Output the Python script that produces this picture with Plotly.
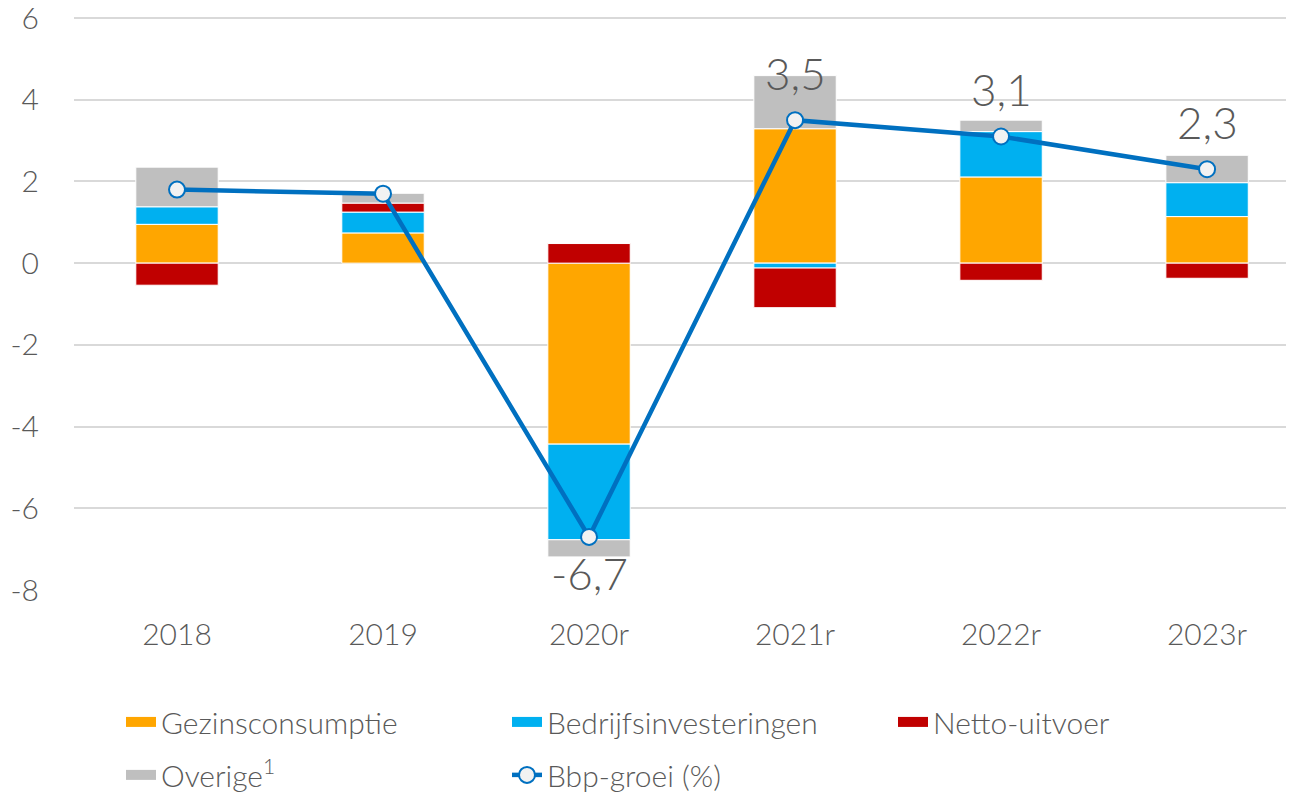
import plotly.graph_objects as go

years = ['2018', '2019', '2020r', '2021r', '2022r', '2023r']
gezinsconsumptie = [0.95, 0.74, -4.43, 3.29, 2.11, 1.14]
bedrijfsinvesteringen = [0.43, 0.51, -2.34, -0.12, 1.11, 0.83]
netto_uitvoer = [-0.54, 0.22, 0.48, -0.97, -0.42, -0.37]
overige = [0.97, 0.24, -0.42, 1.30, 0.28, 0.67]
bbp_groei = [1.8, 1.7, -6.7, 3.5, 3.1, 2.3]
y_ticks = [-8, -6, -4, -2, 0, 2, 4, 6]

FONT = "Lato"
GREY_TXT = "#595959"

fig = go.Figure()

bars = [
    ("Gezinsconsumptie", gezinsconsumptie, "#FFA600"),
    ("Bedrijfsinvesteringen", bedrijfsinvesteringen, "#00B0F0"),
    ("Netto-uitvoer", netto_uitvoer, "#C00000"),
    ("Overige<sup>1</sup>", overige, "#BFBFBF"),
]
for i, (name, vals, col) in enumerate(bars):
    fig.add_trace(go.Bar(
        x=years, y=vals, name=name, width=0.4,
        marker=dict(color=col, line=dict(color="white", width=1)),
        showlegend=False, hoverinfo="skip",
    ))
    # wide legend swatch
    fig.add_trace(go.Scatter(
        x=[None], y=[None], mode="lines", name=name,
        line=dict(color=col, width=19),
        legend="legend" if i < 3 else "legend2",
    ))

fig.add_trace(go.Scatter(
    x=years, y=bbp_groei, name="Bbp-groei (%)", mode="lines+markers",
    line=dict(color="#0070C0", width=4.5),
    marker=dict(size=16, color="#F2F2F2", line=dict(color="#0070C0", width=2)),
    legend="legend2",
))

# data labels
for yr, v in zip(years, bbp_groei):
    fig.add_annotation(
        x=yr, y=v, text=f"{v:.1f}".replace(".", ","), showarrow=False,
        yshift=47 if v > 0 else -36,
        font=dict(family=FONT, size=44, color=GREY_TXT, weight=300),
    )

leg = dict(
    orientation="h", x=47 / 1220, xanchor="left", yanchor="top",
    entrywidth=341, entrywidthmode="pixels",
    font=dict(family=FONT, size=30, color=GREY_TXT, weight=300),
    bgcolor="rgba(0,0,0,0)", traceorder="normal",
)

fig.update_layout(
    width=1286, height=785,
    barmode="relative",
    plot_bgcolor="white", paper_bgcolor="white",
    margin=dict(l=66, r=0, t=0, b=203, autoexpand=False),
    font=dict(family=FONT, size=30, color=GREY_TXT, weight=300),
    showlegend=True,
    legend=dict(leg, y=-0.182),
    legend2=dict(leg, y=-0.273),
)

fig.update_xaxes(
    type="category", range=[-0.5, 5.422], automargin=False,
    showgrid=False, zeroline=False, showline=False, ticks="",
    ticklabelstandoff=24, tickfont=dict(family=FONT, size=30, color=GREY_TXT, weight=300),
)
fig.update_yaxes(
    range=[-8, 6.245], automargin=False, ticklabeloverflow="allow",
    tickvals=y_ticks, ticktext=[str(t) for t in y_ticks],
    showgrid=True, gridcolor="#D9D9D9", gridwidth=2,
    zeroline=False, showline=False, ticks="",
    ticklabelstandoff=34, tickfont=dict(family=FONT, size=30, color=GREY_TXT, weight=300),
)

fig.write_html("out.html")
